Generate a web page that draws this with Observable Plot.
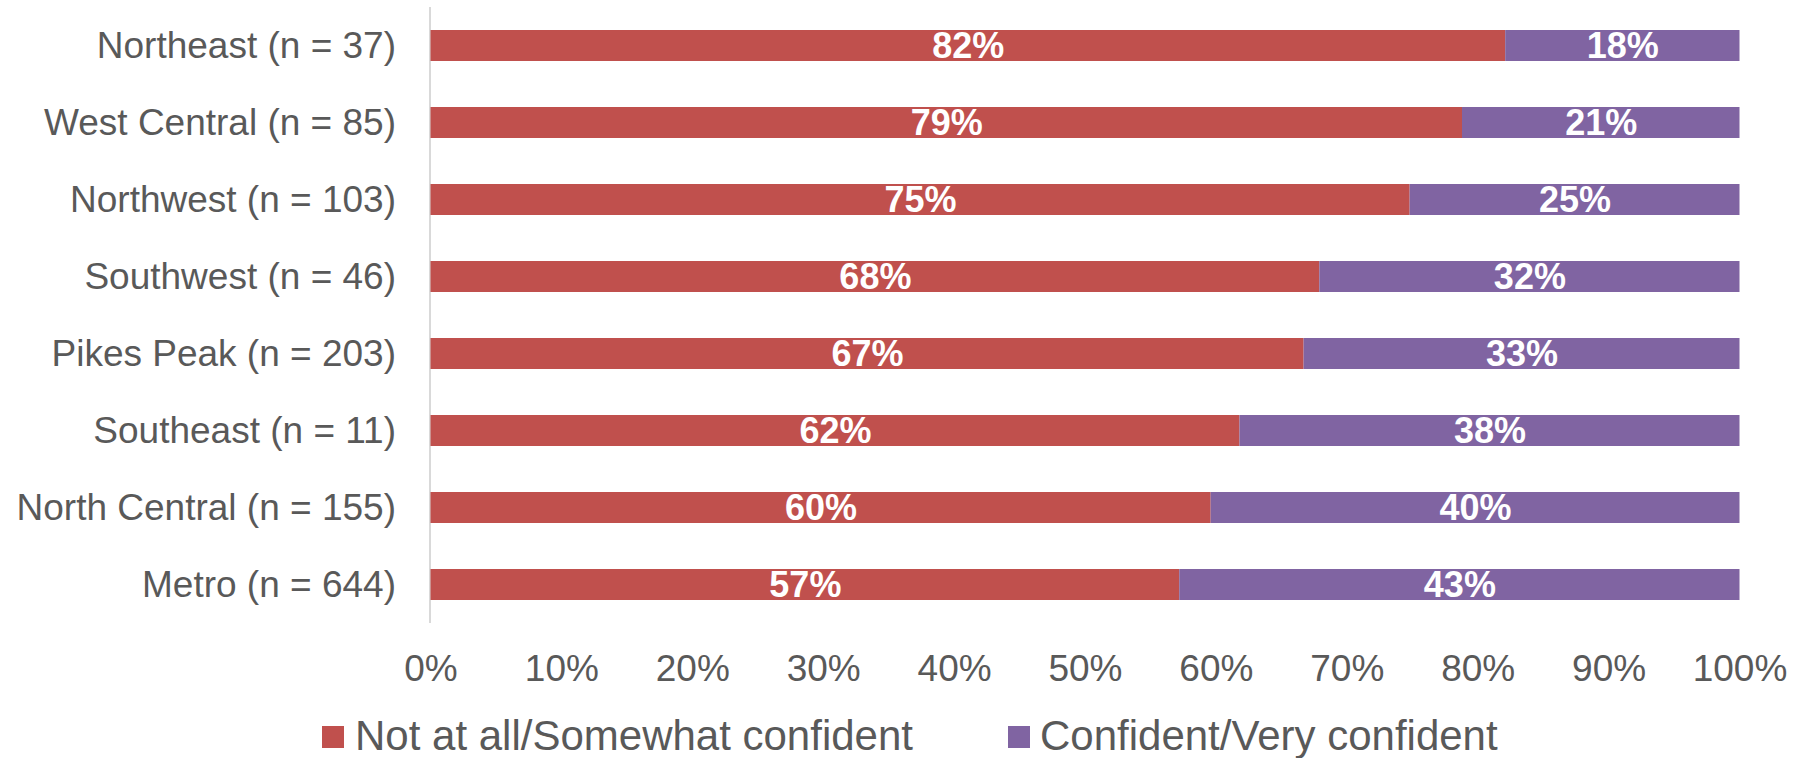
<!DOCTYPE html>
<html>
<head>
<meta charset="utf-8">
<script src="https://cdn.jsdelivr.net/npm/d3@7"></script>
<script src="https://cdn.jsdelivr.net/npm/@observablehq/plot@0.6"></script>
<style>
  html, body { margin: 0; padding: 0; background: #fff; }
  #wrap { position: relative; width: 1798px; height: 758px; font-family: "Liberation Sans", Arial, sans-serif; color: #595959; }
  .sw { position: absolute; width: 22px; height: 22px; }
  .lt { position: absolute; font-size: 42px; line-height: 50px; white-space: nowrap; color: #595959; }
</style>
</head>
<body>
<div id="wrap"></div>
<script>
const regions = ["Northeast (n = 37)", "West Central (n = 85)", "Northwest (n = 103)", "Southwest (n = 46)", "Pikes Peak (n = 203)", "Southeast (n = 11)", "North Central (n = 155)", "Metro (n = 644)"];
const seriesNames = ["Not at all/Somewhat confident", "Confident/Very confident"];
const notConfident = [82.1, 78.8, 74.8, 67.9, 66.7, 61.8, 59.6, 57.2];
const confident = [17.9, 21.2, 25.2, 32.1, 33.3, 38.2, 40.4, 42.8];
const colors = ["#C0504D", "#8064A2"];
const xTicks = [0, 10, 20, 30, 40, 50, 60, 70, 80, 90, 100];

const table = [];
regions.forEach((r, i) => {
  table.push({region: r, series: seriesNames[0], value: notConfident[i]});
  table.push({region: r, series: seriesNames[1], value: confident[i]});
});

const chart = Plot.plot({
  width: 1798,
  height: 700,
  marginLeft: 430.5,
  marginRight: 58.5,
  marginTop: 7,
  marginBottom: 77,
  style: {fontFamily: '"Liberation Sans", Arial, sans-serif', color: "#595959", background: "#fff"},
  x: {domain: [0, 100], ticks: xTicks, tickFormat: d => d + "%", tickSize: 0, tickPadding: 31, label: null, fontSize: 37},
  y: {domain: regions, paddingInner: 0.6, paddingOuter: 0.3, tickSize: 0, tickPadding: 35, label: null},
  color: {domain: seriesNames, range: colors},
  marks: [
    Plot.ruleX([0], {stroke: "#D9D9D9", strokeWidth: 2, dx: -1}),
    Plot.barX(table, Plot.stackX({x: "value", y: "region", fill: "series", order: null})),
    Plot.text(table, Plot.stackX({x: "value", y: "region", z: "series", order: null,
      text: d => Math.round(d.value) + "%", fill: "white", fontWeight: "bold", fontSize: 36})),
    Plot.axisX({ticks: xTicks, tickFormat: d => d + "%", tickSize: 0, tickPadding: 31, fontSize: 37, label: null}),
    Plot.axisY({tickSize: 0, tickPadding: 35, fontSize: 37, label: null})
  ]
});
chart.style.display = "block";
const wrap = document.getElementById("wrap");
wrap.appendChild(chart);

const legendItems = [
  {name: seriesNames[0], color: colors[0], sq: 322, tx: 355},
  {name: seriesNames[1], color: colors[1], sq: 1008, tx: 1040}
];
legendItems.forEach(it => {
  const s = document.createElement("div");
  s.className = "sw";
  s.style.left = it.sq + "px";
  s.style.top = "726px";
  s.style.background = it.color;
  wrap.appendChild(s);
  const t = document.createElement("div");
  t.className = "lt";
  t.style.left = it.tx + "px";
  t.style.top = "711px";
  t.textContent = it.name;
  wrap.appendChild(t);
});
</script>
</body>
</html>
